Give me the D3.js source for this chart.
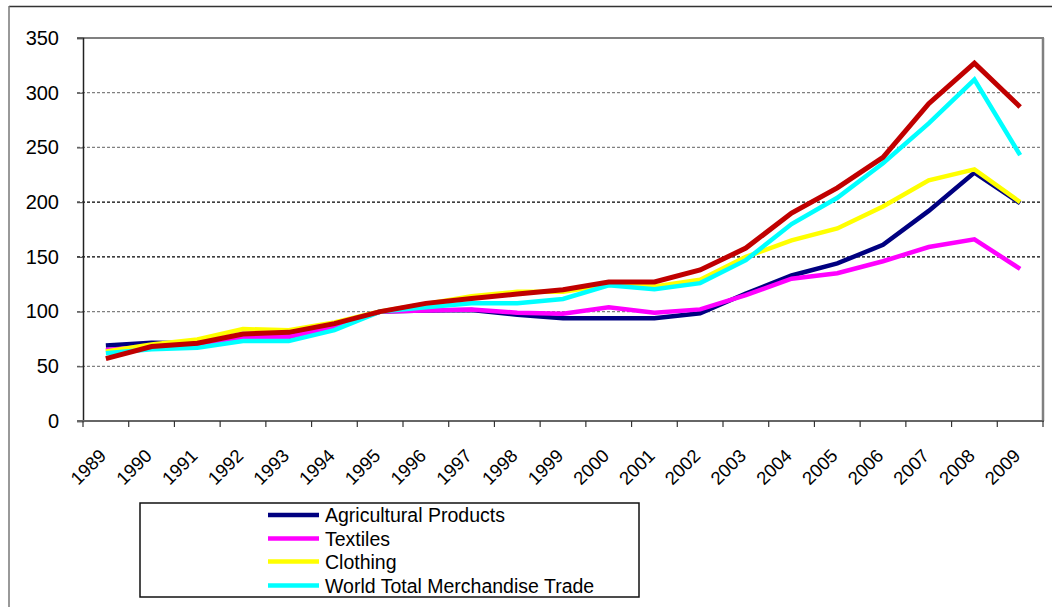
<!DOCTYPE html>
<html>
<head>
<meta charset="utf-8">
<script src="https://cdn.jsdelivr.net/npm/d3@7"></script>
<style>
  html, body { margin: 0; padding: 0; background: #fff; }
  svg { display: block; font-family: "Liberation Sans", Arial, sans-serif; }
</style>
</head>
<body>
<svg id="chart" width="1052" height="607"></svg>
<script>
const years = ["1989","1990","1991","1992","1993","1994","1995","1996","1997","1998","1999","2000","2001","2002","2003","2004","2005","2006","2007","2008","2009"];
const agricultural = [69, 71.5, 71, 77, 77, 87, 100, 101, 101.5, 97, 94, 94, 94, 98.5, 116.5, 133, 144, 161, 192, 227, 199];
const textiles     = [65, 68, 70, 76, 77, 86, 100, 101, 102, 99, 98, 104, 99, 102, 115, 130, 135, 146, 159, 166, 139];
const clothing     = [63.5, 70, 74.5, 84, 83, 90, 100, 107, 114, 118, 118, 124.5, 123, 129, 150, 165, 176, 196, 220, 230, 200];
const worldTotal   = [62, 65.5, 67, 73, 73, 83, 100, 104, 107.5, 107.5, 111.5, 124, 120.5, 126, 147, 180, 204, 235.5, 272, 312, 243];
const unlabeled    = [57, 68, 71, 79.5, 81, 89, 100, 107.5, 112, 116, 120, 127, 127, 138, 158, 190, 213, 241, 290, 327, 287];
const yTicks = [0, 50, 100, 150, 200, 250, 300, 350];

const series = [
  { name: "Agricultural Products", values: agricultural, color: "#000080", width: 4.5, legend: true },
  { name: "Textiles", values: textiles, color: "#FF00FF", width: 4.5, legend: true },
  { name: "Clothing", values: clothing, color: "#FFFF00", width: 4.5, legend: true },
  { name: "World Total Merchandise Trade", values: worldTotal, color: "#00FFFF", width: 4.5, legend: true },
  { name: "", values: unlabeled, color: "#C00000", width: 5, legend: false }
];

const svg = d3.select("#chart");
const pLeft = 83, pRight = 1043, pTop = 38, pBottom = 421;

const x = d3.scaleBand().domain(years).range([pLeft, pRight]);
const y = d3.scaleLinear().domain([0, 350]).range([pBottom, pTop]);

// outer chart border
svg.append("line").attr("x1", 9).attr("x2", 1052).attr("y1", 6.5).attr("y2", 6.5)
  .attr("stroke", "#333").attr("stroke-width", 1.5);
svg.append("line").attr("x1", 9).attr("x2", 9).attr("y1", 6).attr("y2", 607)
  .attr("stroke", "#777").attr("stroke-width", 1.5);

// gridlines
svg.append("g").selectAll("line").data(yTicks.filter(d => d > 0 && d < 350)).join("line")
  .attr("x1", pLeft - 6).attr("x2", pRight)
  .attr("y1", d => y(d)).attr("y2", d => y(d))
  .attr("stroke", d => (d === 150 || d === 200) ? "#000" : "#808080")
  .attr("stroke-width", 1.2)
  .attr("stroke-dasharray", "3,2");

// plot area top / right border
svg.append("line").attr("x1", pLeft - 6).attr("x2", pRight + 1).attr("y1", pTop).attr("y2", pTop)
  .attr("stroke", "#808080").attr("stroke-width", 2);
svg.append("line").attr("x1", pRight).attr("x2", pRight).attr("y1", pTop).attr("y2", pBottom)
  .attr("stroke", "#808080").attr("stroke-width", 2.5);

// y axis
const yAxis = d3.axisLeft(y).tickValues(yTicks).tickSize(6).tickPadding(18);
const gy = svg.append("g").attr("transform", `translate(${pLeft},0)`).call(yAxis);
gy.select(".domain").attr("stroke", "#222").attr("stroke-width", 1.5);
gy.selectAll(".tick line").attr("stroke", "#555").attr("stroke-width", 1.2);
gy.selectAll(".tick text").attr("font-size", 20).attr("fill", "#000")
  .attr("font-family", "Liberation Sans, Arial, sans-serif");

// x axis
svg.append("line").attr("x1", pLeft - 6).attr("x2", pRight + 1).attr("y1", pBottom).attr("y2", pBottom)
  .attr("stroke", "#666").attr("stroke-width", 2);
const tickPos = years.map(d => x(d)).concat([pRight]);
svg.append("g").selectAll("line").data(tickPos).join("line")
  .attr("x1", d => d).attr("x2", d => d)
  .attr("y1", pBottom).attr("y2", pBottom + 6)
  .attr("stroke", "#333").attr("stroke-width", 1.2);

svg.append("g").selectAll("text").data(years).join("text")
  .attr("transform", d => `translate(${x(d) + x.bandwidth() / 2 + 1.5},${pBottom + 36}) rotate(-45)`)
  .attr("text-anchor", "end")
  .attr("font-size", 18.5)
  .attr("fill", "#000")
  .text(d => d);

// lines
const line = d3.line()
  .x((d, i) => x(years[i]) + x.bandwidth() / 2)
  .y(d => y(d));

svg.append("g").selectAll("path").data(series).join("path")
  .attr("d", s => line(s.values))
  .attr("fill", "none")
  .attr("stroke", s => s.color)
  .attr("stroke-width", s => s.width)
  .attr("stroke-linejoin", "miter");

// legend
const lg = svg.append("g");
lg.append("rect").attr("x", 140).attr("y", 503).attr("width", 499).attr("height", 94)
  .attr("fill", "#fff").attr("stroke", "#111").attr("stroke-width", 1.5);
const legendItems = series.filter(s => s.legend);
const rows = [515, 538.5, 561.5, 585.5];
const items = lg.selectAll("g.item").data(legendItems).join("g").attr("class", "item")
  .attr("transform", (d, i) => `translate(0,${rows[i]})`);
items.append("line").attr("x1", 268).attr("x2", 319).attr("y1", 0).attr("y2", 0)
  .attr("stroke", d => d.color).attr("stroke-width", 4.5);
items.append("text").attr("x", 325).attr("y", 0).attr("dy", "0.36em")
  .attr("font-size", 19.5).attr("fill", "#000").text(d => d.name);
</script>
</body>
</html>
